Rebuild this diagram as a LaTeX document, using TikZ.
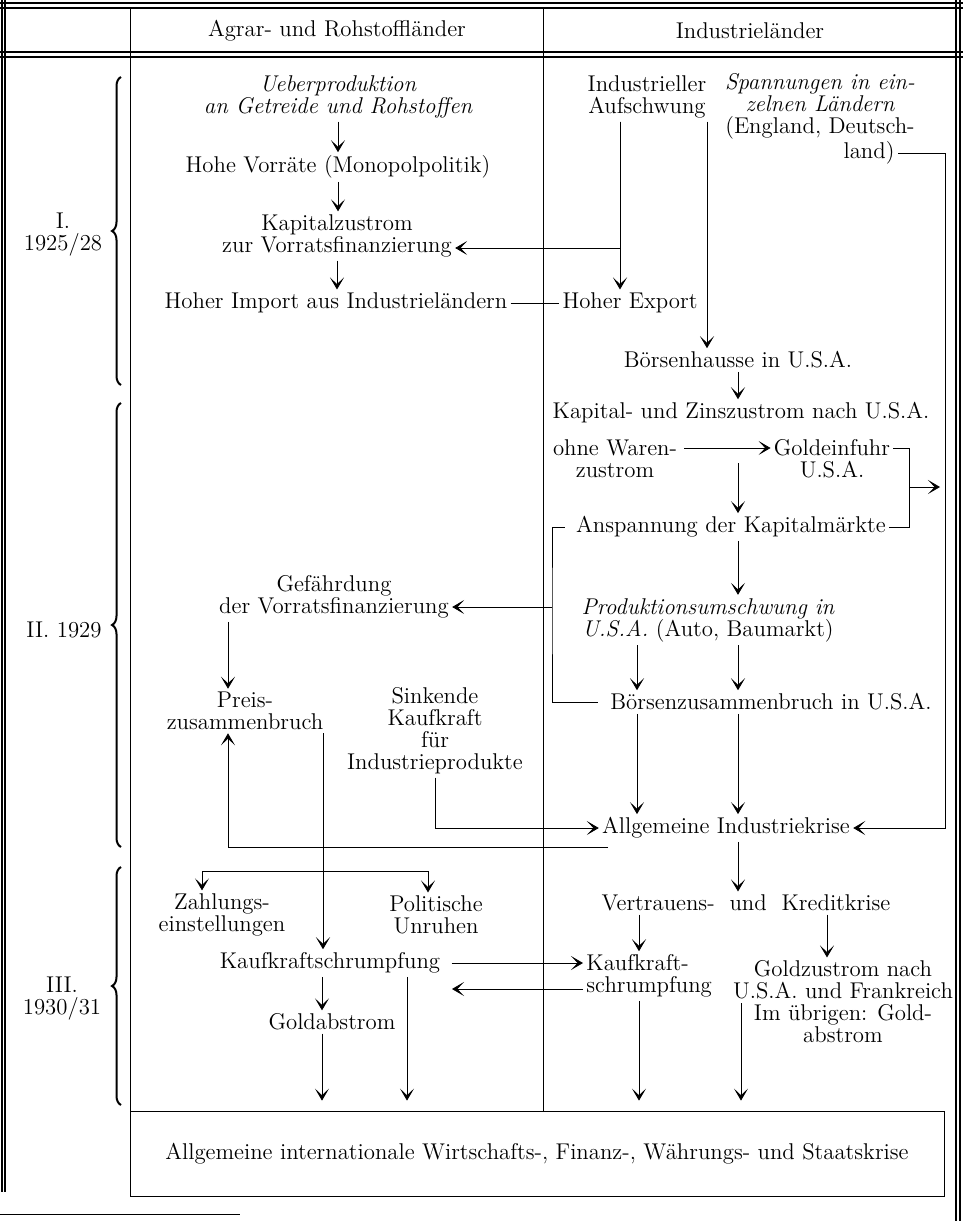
\documentclass[tikz,border=0pt]{standalone}
\usetikzlibrary{arrows.meta,decorations.pathreplacing}
\begin{document}
\begin{tikzpicture}[x=0.5pt, y=-0.5pt,
	every node/.style={inner sep=1.5pt, align=center, font=\fontsize{11.4}{11}\selectfont},
	it/.style={font=\fontsize{11.4}{11}\selectfont\itshape},
	arr/.style={arrows={-Stealth[length=6pt,width=7pt,inset=3.3pt]}, line width=0.4pt},
	tobox/.style={arr, shorten >=5pt},
	ln/.style={line width=0.4pt},
	rule/.style={line width=0.6pt},
	brc/.style={decorate, decoration={brace, amplitude=4.5pt}, line width=1pt}]
	\useasboundingbox (0,0) rectangle (963,1221);

	\draw [rule] (0,3) -- (963,3) (0,8) -- (963,8);
	\draw [rule] (0,52) -- (963,52) (0,57) -- (963,57);
	\draw [rule] (2,0) -- (2,1192) (5,0) -- (5,1192);
	\draw [rule] (956,0) -- (956,1221) (960,0) -- (960,1221);
	\draw [ln] (130,8) -- (130,1111) (543,8) -- (543,1111);
	\draw [ln] (0,1214) -- (240,1214);

	\node (hdA) at (337,31) {Agrar- und Rohstoffländer};
	\node (hdB) at (750,31) {Industrieländer};

	\node (perI) at (63,235) {I.\\1925/28};
	\node (perII) at (64,630) {II. 1929};
	\node (perIII) at (62,999) {III.\\1930/31};
	\draw [brc] (121,385) -- (121,77);
	\draw [brc] (121,847) -- (121,403);
	\draw [brc] (121,1105) -- (121,867);

	\node [it] (ueb) at (338,97) {Ueberproduktion\\an Getreide und Rohstoffen};
	\node (vorr) at (338,167) {Hohe Vorräte (Monopolpolitik)};
	\node (kapz) at (337,236) {Kapitalzustrom\\zur Vorratsfinanzierung};
	\node (imp) at (336,303) {Hoher Import aus Industrieländern};
	\node (gef) at (334,597) {Gefährdung\\der Vorratsfinanzierung};
	\node (preis) at (245,711) {Preis-\\zusammenbruch};
	\node (sink) at (435,731) {Sinkende\\Kaufkraft\\für\\Industrieprodukte};
	\node (zahl) at (222,915) {Zahlungs-\\einstellungen};
	\node (pol) at (436,915) {Politische\\Unruhen};
	\node (kkl) at (330,963) {Kaufkraftschrumpfung};
	\node (gab) at (332,1022) {Goldabstrom};

	\node (indu) at (647,97) {Industrieller\\Aufschwung};
	\node (spann) at (820,119) {{\itshape Spannungen in ein-}\\{\itshape zelnen Ländern}\\(England, Deutsch-\\\hspace*{49pt}land)};
	\node (hoex) at (630,303) {Hoher Export};
	\node (bhau) at (738,360) {Börsenhausse in U.S.A.};
	\node (kzz) at (741,413) {Kapital- und Zinszustrom nach U.S.A.};
	\node (ohne) at (615,459) {ohne Waren-\\zustrom};
	\node (gein) at (832,459) {Goldeinfuhr\\U.S.A.};
	\node (ansp) at (731,527) {Anspannung der Kapitalmärkte};
	\node (prod) at (708,620) {{\itshape Produktionsumschwung in}\\{\itshape U.S.A.} (Auto, Baumarkt)};
	\node (bzus) at (771,702) {Börsenzusammenbruch in U.S.A.};
	\node (aind) at (726,828) {Allgemeine Industriekrise};
	\node (vert) at (746,903) {Vertrauens-\ \ und\ \ Kreditkrise};
	\node [anchor=west, align=left] (kkr) at (583,976) {Kaufkraft-\\schrumpfung};
	\node (gzu) at (843,1002) {Goldzustrom nach\\U.S.A. und Frankreich\\Im übrigen: Gold-\\abstrom};

	\node [draw, ln, minimum width=407pt, minimum height=42.5pt] (ikrise) at (537,1153.5)
		{Allgemeine internationale Wirtschafts-, Finanz-, Währungs- und Staatskrise};

	\coordinate (xa) at (620,0); \coordinate (xb) at (707,0);
	\coordinate (xc) at (637,0); \coordinate (xd) at (738,0);
	\coordinate (xe) at (228,0); \coordinate (xf) at (323,0);
	\coordinate (xg) at (202,0); \coordinate (xh) at (428,0);
	\coordinate (xi) at (322,0); \coordinate (xj) at (407,0);
	\coordinate (xk) at (639,0); \coordinate (xl) at (827,0);
	\coordinate (kv) at (738,463); \coordinate (rbm) at (909,487);
	\coordinate (outR) at (940,487); \coordinate (lb) at (552,607);
	\coordinate (ab) at (608,847); \coordinate (sl) at (898,153);
	\coordinate (sr) at (945,153); \coordinate (br) at (323,871);
	\coordinate (kb) at (452,989); \coordinate (gz) at (741,1003);

	\draw [arr] (ueb.south -| vorr) -- (vorr.north);
	\draw [arr] (vorr.south) -- (vorr.south |- kapz.north);
	\draw [arr] (kapz.south) -- (kapz.south |- imp.north);
	\draw [ln] (imp.east) -- (hoex.west);
	\draw [arr] (indu.south -| xa) -- (hoex.north -| xa);
	\draw [arr] (indu.south -| xa) |- ([yshift=-6pt]kapz.east);
	\draw [arr] (indu.south -| xb) -- (bhau.north -| xb);
	\draw [arr] (bhau.south -| xd) -- (kzz.north -| xd);
	\draw [arr] ([xshift=2pt,yshift=5.5pt]ohne.east) -- ([yshift=5.5pt]gein.west);
	\draw [arr] (kv) -- (kv |- ansp.north);
	\draw [ln] ([yshift=5.5pt]gein.east) -- ++(8pt,0) |- (ansp.east);
	\draw [arr] (rbm) -- (outR);
	\draw [ln] ([xshift=-4pt]ansp.west) -| (lb) |- ([xshift=-4.5pt]bzus.west);
	\draw [arr] (lb) -- (lb -| gef.east);
	\draw [arr] (ansp.south -| xd) -- (prod.north -| xd);
	\draw [arr] (prod.south -| xc) -- (bzus.north -| xc);
	\draw [arr] (prod.south -| xd) -- (bzus.north -| xd);
	\draw [arr] (bzus.south -| xc) -- (aind.north -| xc);
	\draw [arr] (bzus.south -| xd) -- (aind.north -| xd);
	\draw [arr] (aind.south -| xd) -- (vert.north -| xd);
	\draw [arr] (sl) -- (sr) |- (aind.east);

	\draw [arr] (gef.south -| xe) -- (preis.north -| xe);
	\draw [arr] (ab) -| (preis.south -| xe);
	\draw [arr] (sink.south) |- (aind.west);
	\draw [arr] (preis.south -| xf) -- (kkl.north -| xf);
	\draw [arr] (br) -| (zahl.north -| xg);
	\draw [arr] (br) -| (pol.north -| xh);
	\draw [arr] ([xshift=4pt]kkl.east) -- (kkl.east -| kkr.west);
	\draw [arr] (kkr.west |- kb) -- (kb);
	\draw [arr] (kkl.south -| xi) -- (gab.north -| xi);
	\draw [tobox] (gab.south -| xi) -- (ikrise.north -| xi);
	\draw [tobox] (kkl.south -| xj) -- (ikrise.north -| xj);
	\draw [arr] (vert.south -| xk) -- (kkr.north -| xk);
	\draw [arr] (vert.south -| xl) -- (gzu.north -| xl);
	\draw [tobox] (kkr.south -| xk) -- (ikrise.north -| xk);
	\draw [tobox] (gz) -- (gz |- ikrise.north);
\end{tikzpicture}
\end{document}
